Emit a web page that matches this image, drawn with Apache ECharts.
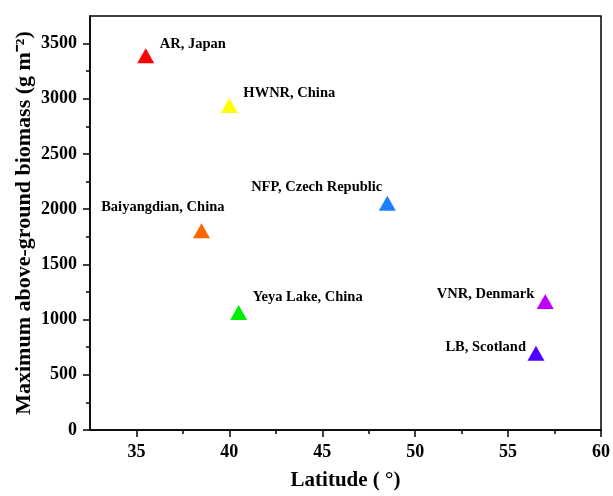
<!DOCTYPE html>
<html>
<head>
<meta charset="utf-8">
<script src="https://cdn.jsdelivr.net/npm/echarts@6/dist/echarts.min.js"></script>
<style>html,body{margin:0;padding:0;background:#fff}#c{width:613px;height:496px}</style>
</head>
<body>
<div id="c"></div>
<script>
// ---- data ----
const sites = ['AR, Japan', 'HWNR, China', 'NFP, Czech Republic', 'Baiyangdian, China', 'Yeya Lake, China', 'VNR, Denmark', 'LB, Scotland'];
const latitude = [35.5, 40, 48.5, 38.5, 40.5, 57, 56.5];
const biomass = [3390, 2940, 2055, 1805, 1065, 1165, 695];
const xTicks = [35, 40, 45, 50, 55, 60];
const yTicks = [0, 500, 1000, 1500, 2000, 2500, 3000, 3500];

// ---- styles ----
const colors = ['#ff0000', '#ffff00', '#1a80ff', '#ff6600', '#00ee00', '#c000ff', '#5000ff'];
const labelAlign = ['left', 'left', 'right', 'right', 'left', 'right', 'right'];
const labelOffset = [[14, -11], [14, -12], [-5, -16], [23, -23], [14, -15], [-11, -7], [-10, -6]];
const xMinor = [37.5, 42.5, 47.5, 52.5, 57.5];
const yMinor = [250, 750, 1250, 1750, 2250, 2750, 3250];

const font = 'Liberation Serif';
const chart = echarts.init(document.getElementById('c'));
const data = sites.map((s, i) => ({
  name: s,
  value: [latitude[i], biomass[i]],
  itemStyle: { color: colors[i], opacity: 1 },
  label: { align: labelAlign[i], offset: labelOffset[i] }
}));

chart.setOption({
  animation: false,
  grid: { left: 90, right: 9, top: 16, bottom: 65, show: true, borderColor: '#000', borderWidth: 1.5 },
  xAxis: [{
    type: 'value', min: 32.5, max: 60, position: 'bottom',
    name: 'Latitude ( °)', nameLocation: 'middle', nameGap: 40, nameMoveOverlap: false,
    nameTextStyle: { fontFamily: font, fontWeight: 'bold', fontSize: 21, color: '#000' },
    axisLine: { show: true, lineStyle: { color: '#000', width: 1.5 } },
    axisTick: { show: true, length: 7, inside: false, customValues: xTicks, lineStyle: { color: '#000', width: 1.5 } },
    axisLabel: { customValues: xTicks, margin: 13, formatter: v => String(v), fontFamily: font, fontWeight: 'bold', fontSize: 18, color: '#000' },
    splitLine: { show: false }
  }, {
    type: 'value', min: 32.5, max: 60, position: 'bottom',
    axisLine: { show: false },
    axisTick: { show: true, length: 4, customValues: xMinor, lineStyle: { color: '#000', width: 1.5 } },
    axisLabel: { show: false }, splitLine: { show: false }
  }],
  yAxis: [{
    type: 'value', min: 0, max: 3750, position: 'left',
    name: 'Maximum above-ground biomass (g m⁻²)', nameLocation: 'middle', nameGap: 55, nameMoveOverlap: false,
    nameTextStyle: { fontFamily: font, fontWeight: 'bold', fontSize: 22, color: '#000' },
    axisLine: { show: true, lineStyle: { color: '#000', width: 1.5 } },
    axisTick: { show: true, length: 7, customValues: yTicks, lineStyle: { color: '#000', width: 1.5 } },
    axisLabel: { customValues: yTicks, margin: 13, formatter: v => String(v), fontFamily: font, fontWeight: 'bold', fontSize: 18, color: '#000' },
    splitLine: { show: false }
  }, {
    type: 'value', min: 0, max: 3750, position: 'left',
    axisLine: { show: false },
    axisTick: { show: true, length: 4, customValues: yMinor, lineStyle: { color: '#000', width: 1.5 } },
    axisLabel: { show: false }, splitLine: { show: false }
  }],
  series: [{
    type: 'scatter',
    xAxisIndex: 0, yAxisIndex: 0,
    symbol: 'triangle',
    symbolSize: [17, 15],
    data: data,
    label: {
      show: true, position: 'inside', verticalAlign: 'middle',
      formatter: p => p.name,
      fontFamily: font, fontWeight: 'bold', fontSize: 14.5, color: '#000'
    }
  }]
});
</script>
</body>
</html>
